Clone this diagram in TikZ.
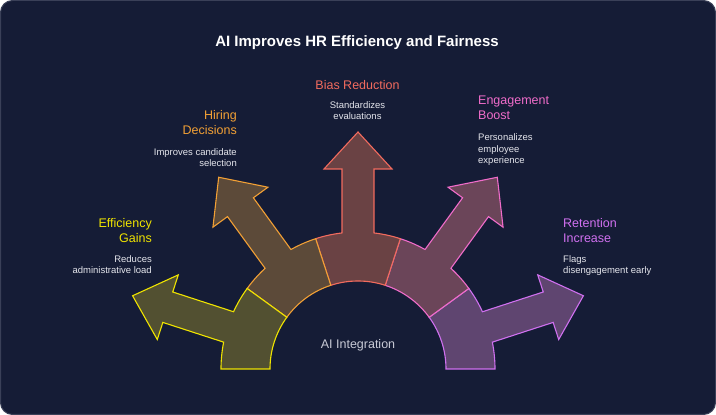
\documentclass[tikz,border=0pt]{standalone}
\usepackage{fontspec}
\setmainfont{Liberation Sans}
\usepackage{tikz}
\definecolor{navy}{HTML}{151C36}
\definecolor{frameline}{HTML}{3A4058}
\definecolor{desc}{HTML}{E4E5EC}
\definecolor{hub}{HTML}{C8CAD6}
\definecolor{yelLine}{HTML}{F0E400}
\definecolor{yelFill}{HTML}{525031}
\definecolor{oraLine}{HTML}{F2A035}
\definecolor{oraFill}{HTML}{5C4A39}
\definecolor{redLine}{HTML}{F26B5E}
\definecolor{redFill}{HTML}{6A4244}
\definecolor{pinLine}{HTML}{F06CCA}
\definecolor{pinFill}{HTML}{6B4559}
\definecolor{purLine}{HTML}{D070F0}
\definecolor{purFill}{HTML}{5F4570}
% one sector of the arch with its arrow: angle, fill, line
\def\armseg#1#2#3{%
  \begin{scope}[shift={(358,46)},rotate=#1]
    \draw[line width=1.1pt,draw=#3,fill=#2] (-18:88) -- (-18:137)
      arc[start angle=-18,end angle=-6.7,radius=137] -- (200,-16) -- (200,-34)
      -- (237,0) -- (200,34) -- (200,16) -- (6.7:137)
      arc[start angle=6.7,end angle=18,radius=137] -- (18:88)
      arc[start angle=18,end angle=-18,radius=88] -- cycle;
  \end{scope}}

\begin{document}
\begin{tikzpicture}[x=1pt,y=1pt,
    head/.style={inner sep=0pt,font=\fontsize{12.5}{15}\selectfont},
    note/.style={inner sep=0pt,text=desc,font=\fontsize{9.5}{11.5}\selectfont}]
  \useasboundingbox (0,0) rectangle (716,415);
  \draw[fill=navy,draw=frameline,line width=1pt,rounded corners=12pt] (0.5,0.5) rectangle (715.5,414.5);
  \node[text=white,inner sep=0pt,font=\fontsize{15}{18}\selectfont\bfseries] (title) at (357,372) {AI Improves HR Efficiency and Fairness};
  % arch, right to left
  \armseg{18}{purFill}{purLine}
  \armseg{54}{pinFill}{pinLine}
  \armseg{90}{redFill}{redLine}
  \armseg{126}{oraFill}{oraLine}
  \armseg{162}{yelFill}{yelLine}
  \node[text=hub,inner sep=0pt,font=\fontsize{12.5}{15}\selectfont] (hub) at (358,70) {AI Integration};
  % labels
  \node[head,text=yelLine,align=right,anchor=north east] (effT) at (152,197) {Efficiency\\Gains};
  \node[note,align=right,anchor=north east] (effD) at (152,160) {Reduces\\administrative load};
  \node[head,text=oraLine,align=right,anchor=north east] (hirT) at (237,305) {Hiring\\Decisions};
  \node[note,align=right,anchor=north east] (hirD) at (237,267) {Improves candidate\\selection};
  \node[head,text=redLine,anchor=north] (biaT) at (357.5,335) {Bias Reduction};
  \node[note,align=center,anchor=north] (biaD) at (357.5,314) {Standardizes\\evaluations};
  \node[head,text=pinLine,align=left,anchor=north west] (engT) at (478,319.5) {Engagement\\Boost};
  \node[note,align=left,anchor=north west] (engD) at (478,281.5) {Personalizes\\employee\\experience};
  \node[head,text=purLine,align=left,anchor=north west] (retT) at (563,197) {Retention\\Increase};
  \node[note,align=left,anchor=north west] (retD) at (563,160) {Flags\\disengagement early};
\end{tikzpicture}
\end{document}
